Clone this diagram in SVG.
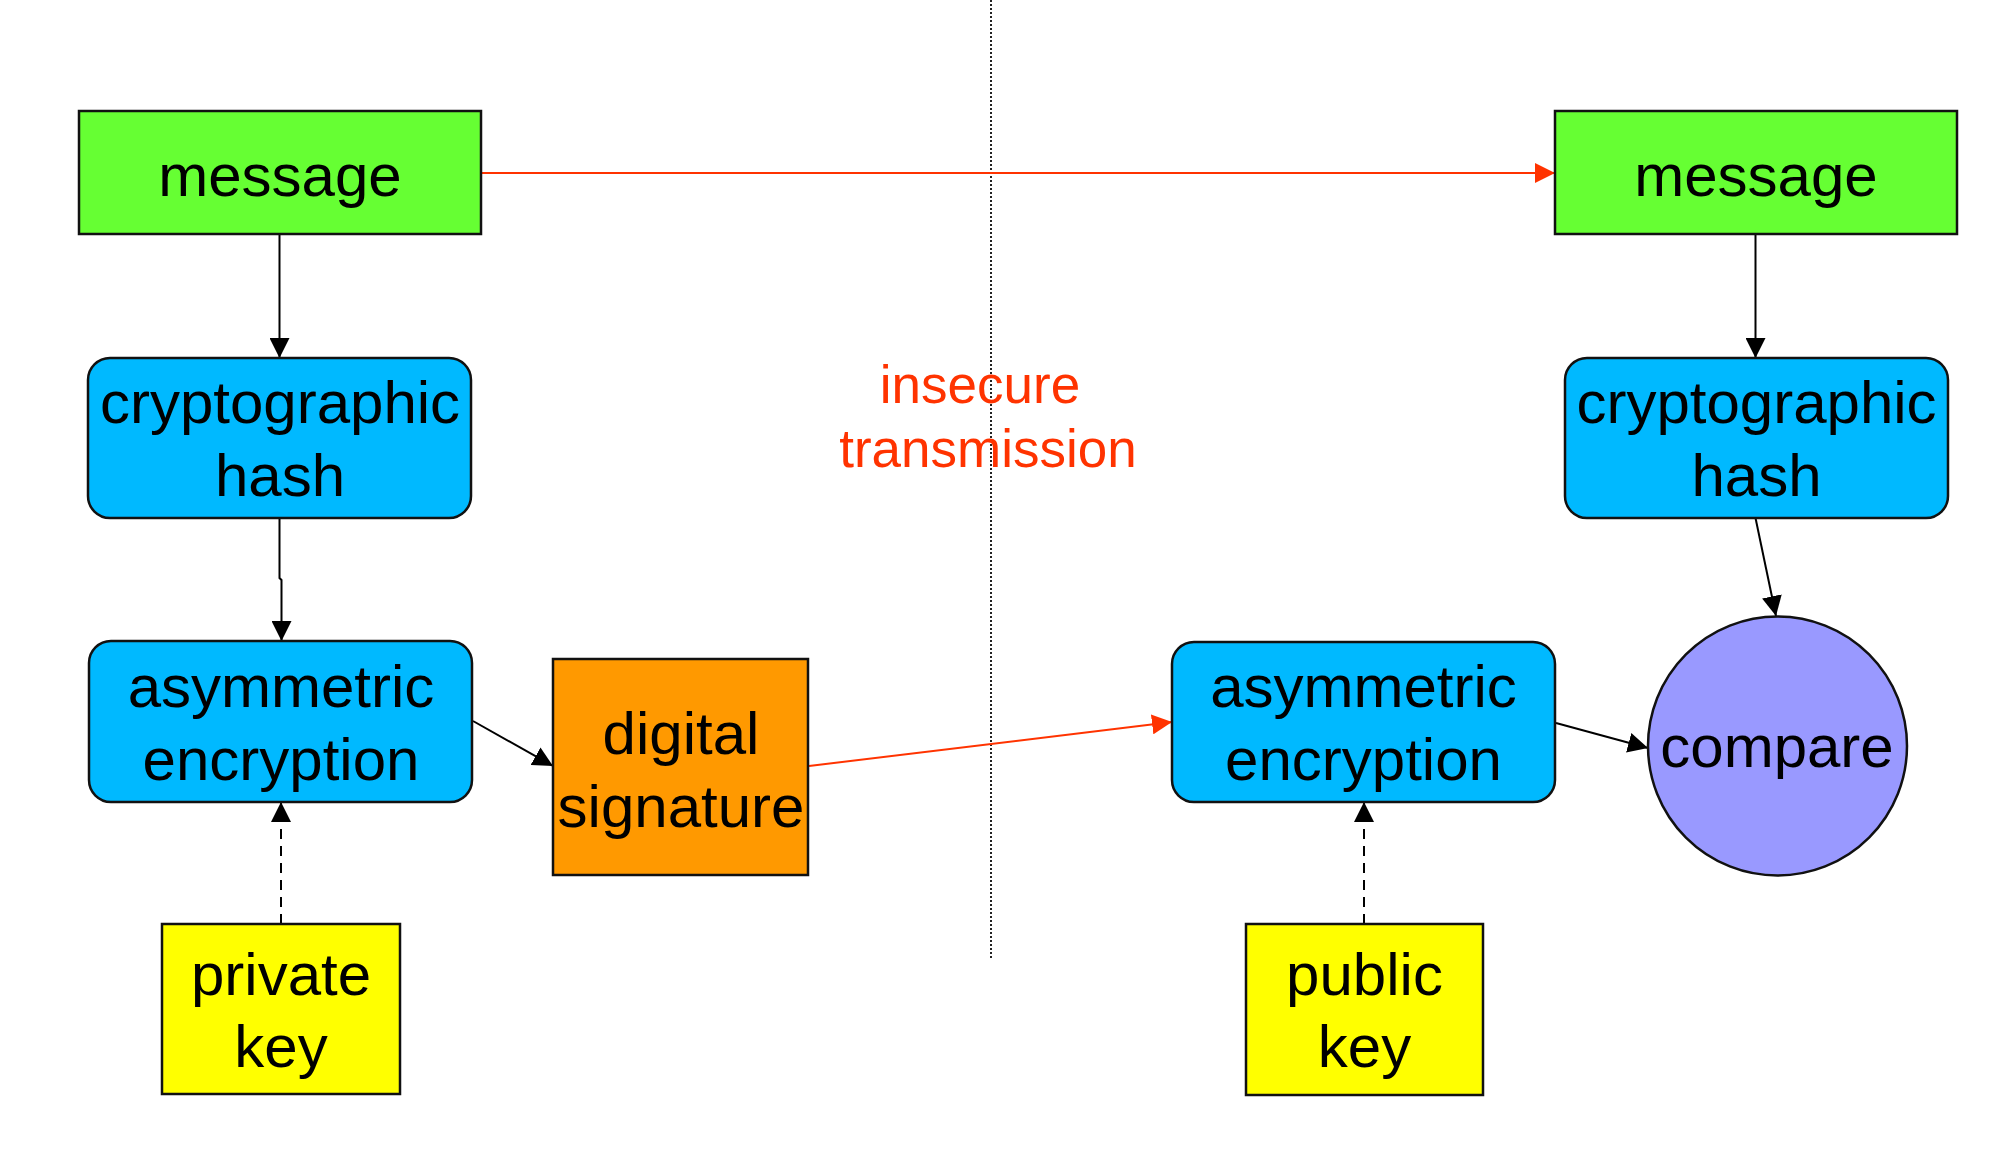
<svg xmlns="http://www.w3.org/2000/svg" width="2000" height="1166" viewBox="0 0 2000 1166">
<style>
  .box { stroke: #111; stroke-width: 2.5; }
  .green { fill: #66ff33; }
  .blue { fill: #00b9ff; }
  .orange { fill: #ff9900; }
  .yellow { fill: #ffff00; }
  .purple { fill: #9999ff; }
  .lbl { font-family: "Liberation Sans", Arial, sans-serif; font-size: 60px; fill: #000; text-anchor: middle; }
  .red-lbl { font-family: "Liberation Sans", Arial, sans-serif; font-size: 53px; fill: #ff3300; text-anchor: middle; }
  .edge { fill: none; stroke: #000; stroke-width: 2; }
  .red { stroke: #ff3300; }
  .dash { stroke-dasharray: 10 7; }
</style>
<defs>
  <marker id="ah" markerUnits="userSpaceOnUse" markerWidth="20" markerHeight="20" refX="20" refY="10" orient="auto">
    <path d="M0,0 L20,10 L0,20 z" fill="#000"/>
  </marker>
  <marker id="ahr" markerUnits="userSpaceOnUse" markerWidth="20" markerHeight="20" refX="20" refY="10" orient="auto">
    <path d="M0,0 L20,10 L0,20 z" fill="#ff3300"/>
  </marker>
</defs>
<rect width="2000" height="1166" fill="#fff"/>

<line x1="991" y1="0" x2="991" y2="958" stroke="#222" stroke-width="2" stroke-dasharray="2 2"/>

<g id="insecure-label">
  <text class="red-lbl" x="980" y="403">insecure</text>
  <text class="red-lbl" x="988" y="467">transmission</text>
</g>

<g id="connectors">
  <line class="edge red" x1="481" y1="173" x2="1555" y2="173" marker-end="url(#ahr)"/>
  <line class="edge" x1="279.5" y1="234" x2="279.5" y2="358" marker-end="url(#ah)"/>
  <polyline class="edge" points="279.5,518 279.5,578 281.5,580 281.5,641" marker-end="url(#ah)"/>
  <line class="edge" x1="473" y1="721" x2="553" y2="766" marker-end="url(#ah)"/>
  <line class="edge dash" x1="281" y1="924" x2="281" y2="802" marker-end="url(#ah)"/>
  <line class="edge red" x1="809" y1="766" x2="1172" y2="722" marker-end="url(#ahr)"/>
  <line class="edge" x1="1755.5" y1="234" x2="1755.5" y2="358" marker-end="url(#ah)"/>
  <line class="edge" x1="1755.5" y1="518" x2="1776" y2="616" marker-end="url(#ah)"/>
  <line class="edge" x1="1556" y1="723" x2="1648" y2="748" marker-end="url(#ah)"/>
  <line class="edge dash" x1="1364" y1="924" x2="1364" y2="802" marker-end="url(#ah)"/>
</g>

<g id="message-left">
  <rect class="box green" x="79" y="111" width="402" height="123"/>
  <text class="lbl" x="280" y="196">message</text>
</g>
<g id="hash-left">
  <rect class="box blue" x="88" y="358" width="383" height="160" rx="22"/>
  <text class="lbl" x="280" y="423">cryptographic</text>
  <text class="lbl" x="280" y="496">hash</text>
</g>
<g id="asym-left">
  <rect class="box blue" x="89" y="641" width="383" height="161" rx="22"/>
  <text class="lbl" x="281" y="707">asymmetric</text>
  <text class="lbl" x="281" y="780">encryption</text>
</g>
<g id="digital-signature">
  <rect class="box orange" x="553" y="659" width="255" height="216"/>
  <text class="lbl" x="681" y="754">digital</text>
  <text class="lbl" x="681" y="827">signature</text>
</g>
<g id="private-key">
  <rect class="box yellow" x="162" y="924" width="238" height="170"/>
  <text class="lbl" x="281" y="995">private</text>
  <text class="lbl" x="281" y="1067">key</text>
</g>

<g id="message-right">
  <rect class="box green" x="1555" y="111" width="402" height="123"/>
  <text class="lbl" x="1756" y="196">message</text>
</g>
<g id="hash-right">
  <rect class="box blue" x="1565" y="358" width="383" height="160" rx="22"/>
  <text class="lbl" x="1756.5" y="423">cryptographic</text>
  <text class="lbl" x="1756.5" y="496">hash</text>
</g>
<g id="asym-right">
  <rect class="box blue" x="1172" y="642" width="383" height="160" rx="22"/>
  <text class="lbl" x="1363.5" y="707">asymmetric</text>
  <text class="lbl" x="1363.5" y="780">encryption</text>
</g>
<g id="compare">
  <circle class="box purple" cx="1777.5" cy="746" r="129.5"/>
  <text class="lbl" x="1777" y="767">compare</text>
</g>
<g id="public-key">
  <rect class="box yellow" x="1246" y="924" width="237" height="171"/>
  <text class="lbl" x="1364.5" y="995">public</text>
  <text class="lbl" x="1364.5" y="1067">key</text>
</g>
</svg>
